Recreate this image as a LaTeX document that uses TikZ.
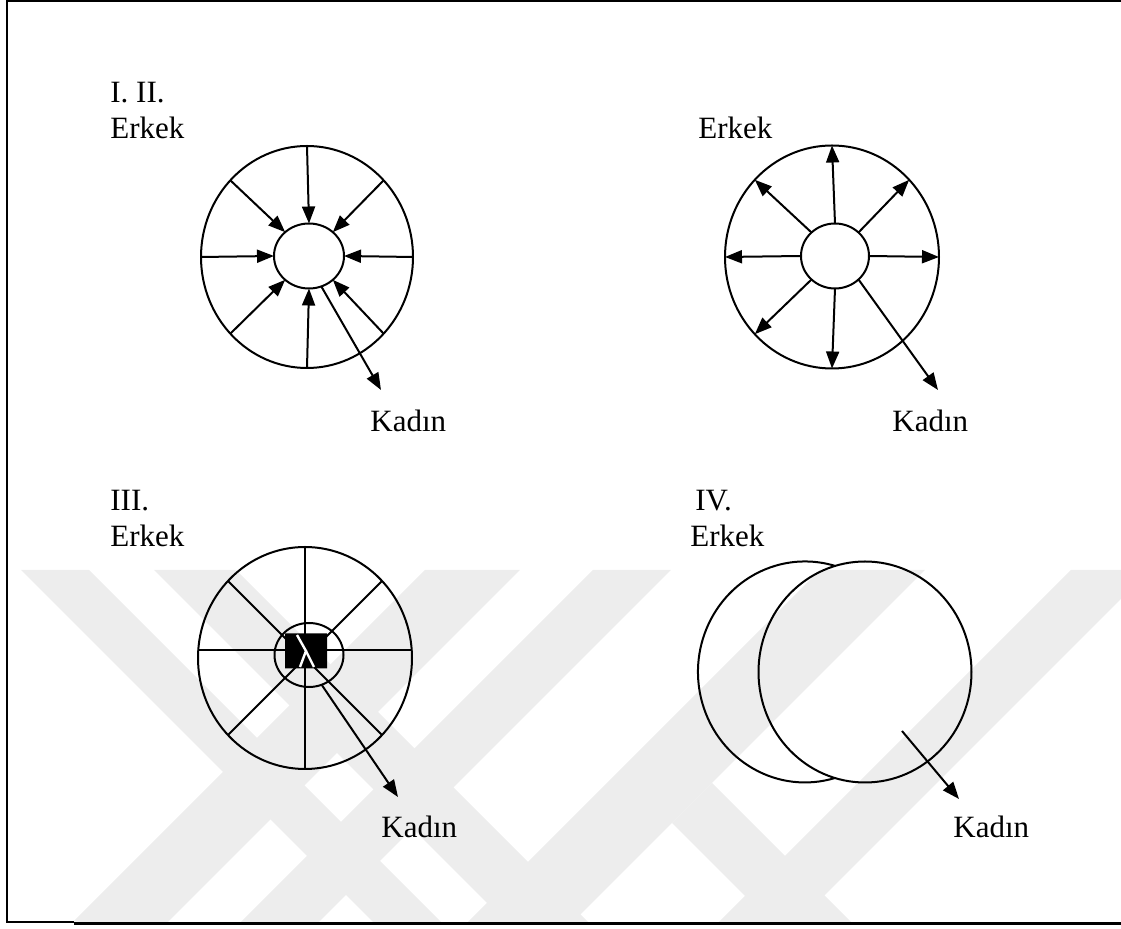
\documentclass[tikz,border=0pt]{standalone}
\usepackage{fontspec}
\setmainfont{Liberation Serif}
\usetikzlibrary{arrows.meta, shapes.geometric, shapes.misc}
\tikzset{
    ring/.style={ellipse, draw, line width=1pt, inner sep=0pt, outer sep=0pt},
    spoke/.style={line width=1pt},
    arr/.style={line width=1pt, -{Triangle[length=8.5pt, width=6.5pt]}},
    lbl/.style={anchor=base west, inner sep=0pt, font=\fontsize{15.5}{18}\selectfont},
    wmark/.style={fill=black!7, draw=none},
    common settings/.style={x=0.5pt, y=-0.5pt}
}
\begin{document}
\begin{tikzpicture}[common settings]
    \useasboundingbox (0,0) rectangle (1121,929);

    \def\h{359} % height of the faint stripes

    % Faint stripes in the background
    \begin{scope}
        \clip (8,570) rectangle (1121,922);
        \fill[wmark] (21,570) -- (89,570) -- (89+\h,929) -- (21+\h,929) -- cycle;     % left
        \fill[wmark] (154,570) -- (236,570) -- (236+\h,929) -- (154+\h,929) -- cycle;  % left
        \fill[wmark] (425,570) -- (520,570) -- (520-\h,929) -- (425-\h,929) -- cycle;  % middle
        \fill[wmark] (593,570) -- (671,570) -- (671-\h,929) -- (593-\h,929) -- cycle;  % middle
        \fill[wmark] (820,570) -- (925,570) -- (925-\h,929) -- (820-\h,929) -- cycle;  % right
        \fill[wmark] (1071,570) -- (1150,570) -- (1150-\h,929) -- (1071-\h,929) -- cycle; % right
        \fill[wmark] (712,783) -- (858,929) -- (778,929) -- (672,823) -- cycle;       % leg
    \end{scope}

    % Frame
    \draw[line width=1pt] (1121,1) -- (7,1) -- (7,922) -- (74,922);
    \draw[line width=1.6pt] (74,923.5) -- (1121,923.5);

    % I. II. -- arrows inward
    \node[ring, minimum width=106pt, minimum height=111pt] (outA) at (307,257) {};
    \node[ring, minimum width=35pt, minimum height=32.5pt] (inA) at (309,256) {};
    \foreach \a in {0,45,...,315}
        \draw[arr] (outA.\a) -- (inA.\a);
    \coordinate (tipA) at (381,390);
    \draw[arr] (inA.-68) -- (tipA);
    \node[lbl] (numA) at (110,103) {I. II.};
    \node[lbl] (erkekA) at (110,139) {Erkek};
    \node[lbl] (kadinA) at (370,432) {Kadın};

    % arrows outward
    \node[ring, minimum width=107pt, minimum height=111.5pt] (outB) at (832,257) {};
    \node[ring, minimum width=34pt, minimum height=32.5pt] (inB) at (835,256) {};
    \foreach \a in {0,45,...,270}
        \draw[arr] (inB.\a) -- (outB.\a);
    \coordinate (tipB) at (938,390);
    \draw[arr] (inB.-45) -- (tipB);
    \node[lbl] (erkekB) at (698,139) {Erkek};
    \node[lbl] (kadinB) at (892,432) {Kadın};

    % III. -- spokes and a blocked hub
    \node[ring, minimum width=107pt, minimum height=111pt] (outC) at (305,658) {};
    \node[ring, minimum width=34.5pt, minimum height=32pt] (inC) at (309,655) {};
    \foreach \a/\b in {45/225, 90/270, 135/315}
        \draw[spoke] (outC.\a) -- (outC.\b);
    \draw[spoke] ([yshift=4pt]outC.west) -- ([yshift=4pt]outC.east);
    \node[chamfered rectangle, chamfered rectangle xsep=4pt, chamfered rectangle ysep=4pt,
          fill=black, minimum width=21pt, minimum height=17.5pt, inner sep=0pt] (hubC) at (306,651) {};
    \draw[white, line width=1.2pt] (297,635) -- (hubC.center) -- (300,667);
    \draw[white, line width=1.2pt] (hubC.center) -- (314,667);
    \coordinate (tipC) at (398,797);
    \draw[arr] (inC.-67) -- (tipC);
    \node[lbl] (numC) at (110,511) {III.};
    \node[lbl] (erkekC) at (110,547) {Erkek};
    \node[lbl] (kadinC) at (381,838) {Kadın};

    % IV. -- two overlapping circles
    \draw[spoke] (835,778) arc[start angle=73.7, end angle=286.3, x radius=107, y radius=110.5];
    \node[ring, minimum width=106.5pt, minimum height=110.5pt] (rightD) at (865,672) {};
    \coordinate (startD) at (902,731);
    \coordinate (tipD) at (959,799);
    \draw[arr] (startD) -- (tipD);
    \node[lbl] (numD) at (695,511) {IV.};
    \node[lbl] (erkekD) at (690,547) {Erkek};
    \node[lbl] (kadinD) at (953,838) {Kadın};
\end{tikzpicture}
\end{document}
